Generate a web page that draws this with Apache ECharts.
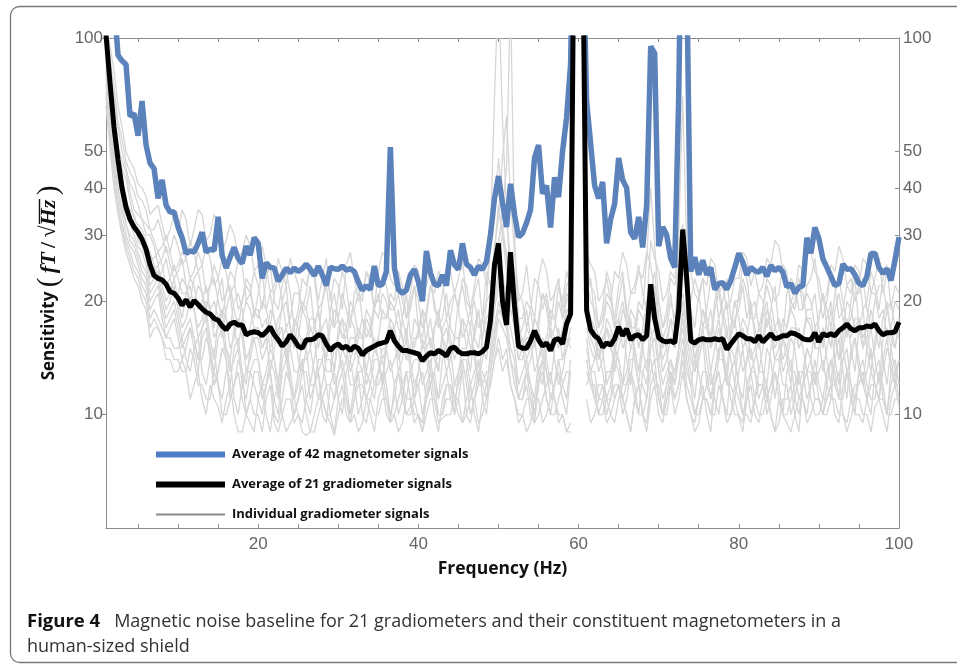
<!DOCTYPE html>
<html>
<head>
<meta charset="utf-8">
<script src="https://cdn.jsdelivr.net/npm/echarts@6/dist/echarts.min.js"></script>
<style>
  html, body { margin: 0; padding: 0; background: #fff; }
  #main { width: 957px; height: 666px; }
</style>
</head>
<body>
<div id="main"></div>
<script>
// every curve is sampled every 0.5 Hz from 1 Hz to 100 Hz
var freqStart = 1, freqStep = 0.5;

var magAvg = [
  200, 160, 125, 90, 87, 85, 62, 63, 55, 68,
  52, 46.5, 45, 37.5, 42, 36, 34.5, 34.5, 31.5, 29.5,
  26.8, 27.2, 27, 28.5, 30.5, 27, 27.5, 27.3, 33.5, 26.5,
  24.5, 26.2, 27.8, 26, 25.2, 28, 26.5, 29.5, 28.5, 23,
  25.3, 24.6, 24.5, 22.6, 23.5, 24.5, 23.8, 24.5, 24, 24.4,
  25.1, 24.3, 23.4, 24.8, 23.5, 22, 24.6, 24.4, 24.3, 24.8,
  24.2, 24.4, 24, 22.5, 21.4, 22, 21.5, 24.8, 22, 22.2,
  24, 51.3, 24.6, 21.5, 21, 21.4, 23.5, 24.3, 22.5, 20,
  27.2, 23.8, 22.2, 22, 23.5, 22, 27.3, 25, 24.3, 28.5,
  25.1, 24.6, 23.5, 24.8, 24.3, 25.5, 30, 37.5, 43, 36.5,
  31.5, 41, 34, 29.6, 30.3, 32.3, 35, 48, 52, 38.6,
  40.6, 31.4, 42.7, 37.8, 50, 61.5, 85, 300, 800, 200,
  68, 52.5, 40.6, 37.5, 41.5, 28.5, 33, 36.3, 48, 42,
  40, 30.5, 29.3, 33.5, 27.8, 36, 95, 91, 28, 31.5,
  30, 26, 24.6, 70, 400, 150, 24, 26.2, 23.5, 25.7,
  23.5, 24.6, 21.5, 22.3, 22.4, 21.5, 22.7, 24.6, 26.8, 25.4,
  23.5, 24.6, 24.1, 23.9, 24.6, 23.3, 24.9, 24.1, 24.6, 23.9,
  21.8, 22.3, 21, 21.8, 22, 29.5, 26.8, 31.4, 29.3, 25.9,
  24.6, 23.3, 22, 22.3, 25.1, 24.3, 24.4, 23.5, 22.3, 22,
  23.3, 26.8, 26.8, 24.6, 23.7, 24.4, 22.7, 25.7, 29.6
];

var gradAvg = [
  102, 76, 58, 47.5, 40, 35.5, 33, 31.5, 30.5, 29.2,
  27.5, 25, 23.4, 23, 22.8, 22.2, 21.2, 21, 20.4, 19.5,
  20.2, 19.3, 20.1, 19.6, 19.1, 18.7, 18.5, 18, 17.8, 17.2,
  16.8, 17.4, 17.6, 17.3, 17.3, 16.3, 16.5, 16.6, 16.5, 16.2,
  16.6, 17.1, 16.3, 15.8, 15.2, 15.6, 16.3, 15.8, 15.2, 15,
  15.8, 15.8, 15.9, 16.3, 16.2, 15.4, 14.8, 15.2, 15.4, 15,
  15.2, 14.8, 15.2, 15, 14.4, 14.8, 15, 15.2, 15.4, 15.5,
  15.6, 16.7, 15.7, 15.2, 14.8, 14.8, 14.7, 14.6, 14.5, 13.9,
  14.3, 14.6, 14.5, 14.8, 14.6, 14.3, 15, 15.1, 14.7, 14.5,
  14.5, 14.6, 14.6, 14.5, 14.7, 15.1, 17.8, 25, 28.5, 20,
  17.3, 27, 19.5, 15.2, 15, 15, 15.7, 16.7, 15.8, 15.2,
  15.5, 14.8, 15.8, 15.9, 15.4, 17.4, 18.5, 300, 800, 200,
  18.9, 16.8, 16.2, 15.9, 15.1, 15.5, 15.3, 15.9, 17.1, 16.2,
  16.9, 15.8, 16.2, 16.3, 15.8, 16.2, 22.2, 18, 16, 15.7,
  15.6, 15.7, 15.5, 19, 31, 23, 15.7, 15.5, 15.8, 15.9,
  15.8, 15.8, 15.9, 15.8, 15.9, 14.9, 15.4, 15.9, 16.4, 16.2,
  15.9, 15.9, 15.6, 16.2, 15.6, 16, 16.4, 15.9, 16, 16.2,
  16.2, 16.5, 16.4, 16.2, 15.9, 15.8, 15.8, 16.5, 15.6, 16.4,
  16.2, 16.4, 16.2, 16.7, 17, 17.4, 16.9, 16.7, 17, 17,
  17.2, 17.1, 17.4, 16.7, 16.3, 16.5, 16.5, 16.6, 17.6
];

// individual gradiometers (no value around 60 Hz)
var gradA = [110,95,82,66,58,50,47,45,41,40, 38,34,35,36,32,29,31,34,30,35, 33,28,31,35,34,29,30,34,32,27, 29,32,30,26,27,30,28,24,25,28,
  25,21,22,26,24,22,26,24,22,19, 21,25,24,20,23,26,20,23,22,19, 25,27,23,20,21,24,22,19,24,27, 26,23,22,24,20,18,21,25,24,21,
  22,24,19,18,21,25,24,21,23,26, 20,19,22,26,25,22,27,35,48,36, 33,26,24,20,21,25,20,18,23,26, 24,20,21,23,19,22,23,null,null,null,
  27,25,24,20,21,23,20,24,23,27, 25,21,22,25,21,19,29,26,24,20, 21,24,23,28,32,27,24,21,20,23, 22,26,25,21,22,19,20,23,23,27,
  26,22,24,21,22,26,25,29,28,24, 23,20,21,25,24,28,27,24,23,20, 21,25,24,28,26,22,23,20,22,26, 25,21,23,26,21,24,24,28,26];
var gradB = [100,88,74,60,54,47,44,42,38,37, 35,31,31,33,30,27,27,30,28,25, 26,29,27,24,25,28,26,22,23,26, 24,21,22,26,25,20,21,24,22,19,
  23,25,20,19,22,24,21,17,19,23, 22,25,23,19,20,22,18,17,21,24, 22,18,19,21,20,24,23,19,21,18, 18,21,20,24,22,18,19,22,20,17,
  18,22,21,24,23,18,20,21,19,23, 22,19,20,17,18,24,22,28,33,48, 62,38,27,21,20,17,19,23,22,19, 21,18,18,22,20,24,22,null,null,null,
  25,22,21,17,19,24,22,17,20,23, 18,21,21,24,23,27,25,21,20,17, 19,23,22,25,27,22,20,23,21,17, 19,23,22,18,20,23,18,17,21,25,
  23,19,20,17,19,23,22,20,21,25, 24,19,20,23,19,22,23,26,21,18, 20,24,22,18,19,22,21,25,24,19, 20,24,22,19,23,25,19,22,21];
var gradC = [92,80,64,52,47,44,39,35,34,33, 30,30,28,25,26,28,25,23,24,26, 22,20,23,24,21,19,22,23,20,18, 21,22,19,17,20,22,21,19,18,20,
  19,21,18,16,20,22,17,15,18,20, 19,17,17,19,16,14,19,21,18,16, 17,20,19,16,18,17,16,19,18,21, 20,17,17,15,18,21,16,15,17,19,
  18,15,17,19,16,15,18,21,19,16, 17,19,16,15,18,20,21,27,36,30, 27,22,19,16,17,19,16,15,18,21, 19,16,17,20,18,21,20,null,null,null,
  21,23,18,16,17,20,19,17,18,15, 16,19,18,15,17,20,21,24,18,16, 17,20,18,22,26,21,18,15,16,19, 17,15,19,21,18,16,16,18,19,22,
  18,20,16,15,19,22,20,17,18,16, 17,20,19,22,21,18,17,15,18,21, 17,15,19,21,18,16,20,23,17,15, 18,21,21,18,19,16,17,20,19];
var gradD = [90,72,60,50,45,42,37,33,32,31, 29,26,26,27,25,22,23,25,23,21, 21,23,22,19,20,22,19,17,21,23, 18,17,20,21,19,16,17,19,19,17,
  18,15,16,18,19,20,17,15,16,19, 18,15,17,19,15,14,17,19,18,16, 16,18,17,14,15,18,17,15,16,19, 18,20,19,17,16,14,15,18,17,15,
  16,18,15,13,17,18,16,14,15,18, 17,15,16,19,15,14,18,20,24,21, 22,19,18,15,16,14,15,18,17,15, 16,19,18,16,16,19,19,null,null,null,
  20,18,17,14,16,17,15,14,18,20, 17,15,16,19,18,16,20,22,17,15, 16,18,15,30,70,28,17,14,16,19, 18,15,16,18,15,13,17,20,18,15,
  16,19,17,15,18,20,16,14,15,18, 17,19,18,15,16,19,19,21,17,15, 18,20,16,14,17,20,19,17,18,15, 16,19,17,15,18,20,16,15,17];
var gradE = [88,70,58,48,43,37,35,34,31,29, 28,27,25,23,24,26,23,21,21,23, 22,19,20,22,21,18,19,20,18,16, 19,21,17,15,18,20,19,17,17,15,
  16,19,18,16,17,14,15,18,17,15, 16,18,18,15,17,18,15,13,16,18, 17,14,15,17,16,19,18,15,16,14, 15,17,17,19,16,14,14,16,16,19,
  15,13,17,18,16,14,14,16,16,18, 15,13,17,19,16,20,30,70,140,60, 35,22,17,14,15,17,16,18,17,14, 15,17,16,15,17,19,18,null,null,null,
  19,17,16,14,15,18,17,15,16,19, 18,16,15,13,16,18,19,17,16,14, 15,18,17,19,21,18,16,14,15,17, 17,19,16,14,18,20,15,14,16,18,
  17,14,15,17,16,19,18,15,16,14, 15,17,17,15,16,18,18,15,15,17, 16,19,17,14,15,17,16,18,18,16, 17,14,15,17,16,19,17,15,18];
var gradF = [85,66,55,46,41,38,33,32,29,28, 26,23,24,25,22,20,21,23,20,18, 21,22,19,17,18,20,19,16,17,19, 18,15,16,18,17,14,15,17,17,15,
  16,13,15,17,17,14,16,17,14,13, 15,17,16,13,14,16,15,13,17,18, 15,13,14,16,16,13,15,16,14,12, 16,18,17,14,15,17,14,12,13,15,
  15,16,14,13,16,17,15,12,13,15, 15,17,14,12,16,18,19,24,29,32, 26,19,17,14,14,16,16,13,14,16, 14,12,15,17,14,15,17,null,null,null,
  18,16,15,13,14,17,16,13,15,17, 14,12,16,17,15,13,18,19,16,13, 14,16,15,17,20,17,15,13,14,16, 16,13,15,17,14,12,16,18,15,13,
  14,16,16,13,15,18,17,14,14,16, 14,12,16,17,15,13,14,17,16,13, 15,17,14,12,16,18,15,13,17,19, 15,13,16,17,14,12,15,17,16];
var gradG = [82,64,52,44,39,35,32,30,28,27, 25,22,23,24,21,19,20,22,19,17, 18,20,19,16,17,19,16,14,18,19, 15,14,17,18,16,13,14,16,16,14,
  15,17,14,12,16,17,15,13,13,16, 15,12,14,16,16,13,13,15,15,13, 14,16,16,14,15,12,13,15,14,12, 15,17,16,13,14,16,13,11,13,16,
  14,12,13,15,15,13,14,16,16,13, 13,15,15,12,14,16,17,22,28,35, 45,130,30,18,15,13,14,16,13,12, 15,17,14,12,13,15,16,null,null,null,
  17,15,14,16,15,12,13,15,14,12, 16,18,14,12,15,17,17,14,14,16, 15,12,13,15,19,16,14,13,15,17, 14,12,13,15,15,17,14,12,16,17,
  15,13,14,16,13,12,15,17,16,13, 14,16,15,12,13,15,14,12,15,17, 14,12,16,17,15,13,14,16,13,12, 15,17,14,12,16,17,15,13,14];
var gradH = [80,62,50,42,37,32,30,29,27,25, 24,21,22,23,20,18,19,20,18,16, 17,18,16,14,17,18,15,13,16,17, 14,12,15,16,13,12,15,16,14,12,
  13,15,14,12,15,16,13,11,12,14, 14,15,13,11,12,14,14,12,13,15, 14,12,12,14,13,15,14,12,13,15, 15,13,14,15,12,11,13,14,14,12,
  13,14,12,11,14,15,13,11,12,14, 14,12,13,14,12,11,15,19,22,24, 20,17,15,12,13,14,12,11,14,15, 13,11,12,14,14,16,15,null,null,null,
  16,13,14,15,13,11,12,15,14,12, 13,15,15,13,13,12,16,17,14,12, 13,14,12,15,18,15,13,11,14,16, 12,11,13,15,15,12,13,14,12,11,
  14,15,13,12,12,15,14,11,13,16, 15,13,13,11,12,15,14,12,13,14, 12,11,14,16,13,11,15,16,14,12, 13,15,12,11,14,16,13,12,14];
var gradI = [78,60,48,40,35,32,29,28,26,24, 23,20,21,22,19,17,18,19,17,15, 16,17,15,13,16,17,14,12,13,15, 15,13,14,15,12,11,13,14,14,12,
  12,14,13,11,14,15,12,11,13,14, 11,10,12,14,14,12,12,11,13,14, 12,10,11,13,13,11,12,14,14,12, 13,14,12,10,11,13,13,11,12,13,
  11,12,13,11,12,13,11,10,13,14, 12,10,11,13,13,12,14,17,20,18, 18,15,14,11,12,13,11,10,12,14, 13,11,12,14,12,11,14,null,null,null,
  15,13,13,11,12,10,11,14,13,11, 12,14,14,12,12,11,15,16,13,11, 12,14,13,15,17,14,12,10,11,13, 13,11,12,14,14,12,12,11,13,15,
  12,10,11,13,13,11,12,14,14,12, 12,10,11,13,13,11,12,14,12,11, 13,14,12,11,14,15,12,11,13,12, 11,13,12,11,13,15,14,12,12];
var gradJ = [75,58,46,38,34,30,28,27,25,23, 22,19,20,21,18,16,17,18,16,14, 15,17,16,14,14,16,15,12,13,15, 14,11,12,14,13,10,11,13,13,11,
  12,13,11,10,13,14,12,10,11,13, 13,11,12,13,10,9.5,12,13,11,10, 13,14,12,10,11,13,12,11,13,14, 12,10,11,13,12,10,10.5,12,12,10,
  11,13,12,10,10,12,12,10,11,13, 13,11,12,14,11,10,13,16,19,18, 17,14,13,11,11,13,12,10,13,14, 11,10,12,13,11,10,13,null,null,null,
  14,12,12,10,11,13,13,11,12,10, 11,13,12,10,13,14,14,12,12,10, 11,13,12,14,16,13,12,14,13,11, 11,10,12,13,11,10,13,14,12,10,
  11,13,13,11,12,10,11,13,12,10, 13,14,11,10,12,13,13,11,11,10, 12,14,13,11,11,13,12,10,13,14, 12,11,11,13,12,10,13,14,12];
var gradK = [70,54,42,35,31,28,26,24,23,21, 20,17,18,17,16,15,15,14,14,13, 13,15,14,12,12,11,11,13,12,10, 10,11,12,13,11,10,9.5,9,11,12,
  10,9,11,12,10,9,9.5,10,11,12, 10,9,9,10,11,12,10,9,11,12, 10,9.5,11,12,12,11,10,9,11,12, 10,9.5,12,13,11,10,10,11,9.8,9,
  11,12,10,9,11,12,12,11,10,9.5, 11,12,10,9,11,12,12,14,16,14, 15,12,11,10,10,11,11,9.5,10,11, 12,13,11,10,10,9,9.5,null,null,null,
  12,13,11,10,10,11,11,12,12,11, 10,9,11,12,10,9.5,12,13,11,10, 10,12,11,12,14,11,10,9.5,11,12, 10,9,12,13,11,10,10,12,11,10,
  10,9.5,11,12,12,11,10,9,9.5,11, 11,12,10,9,12,13,11,10,10,11, 11,12,10,9.5,12,13,11,10,10,9.5, 11,12,12,11,10,9,11,12,10.5];
var gradL = [66,51,40,34,30,27,25,23,22,20, 19,16,17,17,16,14,14,13,13,14, 13,11,12,13,11,10,12,11,10.5,9.5, 11,12,10,9,9,10,11,10,10,9,
  11,12,9.5,9,10,11,11,9.5,10,9, 8.8,9,10,11,11,10,9.5,8.8,10,11, 11,9.5,10,9,9.5,11,11,10,10,11, 11,9.5,10,9,9.5,11,11,9.5,10,9,
  10,11,11,9.5,9.8,10,10,11,11,9.5, 10,11,11,9.5,10,11,12,14,15,13, 14,12,11,9.5,10,9,9.5,11,11,9.5, 10,11,11,9.5,10,9,9,null,null,null,
  11,9.5,10,11,11,9.5,10,11,12,11, 10,9,11,12,10,9,11,12,10,9.5, 11,12,10,11,13,11,10,9,9.5,11, 11,10,10,12,11,9.5,10,11,9.8,9,
  11,12,10,9.5,11,12,10,9,11,10, 9.5,9,10,11,11,9.5,10,11,11,10, 10,11,11,10,10,9,9.8,11,11,10, 10,9,10.5,11,11,10,10,11,11];
var gradM = [96,82,70,58,50,45,41,39,36,33, 32,31,29,27,28,30,27,24,25,27, 26,23,24,27,25,21,22,25,23,20, 21,24,23,19,20,23,22,18,21,24,
  19,17,21,23,20,17,18,21,21,19, 19,22,17,16,20,23,21,17,18,21, 19,17,21,22,18,16,17,20,20,23, 22,19,19,21,18,16,20,22,17,16,
  19,22,20,17,18,21,17,16,20,22, 19,17,21,23,18,16,20,24,26,30, 24,21,22,18,18,20,19,16,17,21, 20,17,21,23,18,20,21,null,null,null,
  23,20,19,17,18,21,20,18,22,24, 19,17,17,20,19,26,40,28,20,17, 18,21,17,19,24,21,19,17,21,23, 18,16,20,22,19,17,17,20,20,23,
  21,18,18,21,20,17,19,22,17,16, 21,23,22,19,19,21,20,17,18,21, 19,17,21,23,20,17,18,21,21,23, 19,17,20,22,22,19,20,17,18];
var gradN = [72,56,44,37,32,29,27,25,24,22, 21,18,19,18,17,16,16,15,15,16, 14,13,15,16,13,12,14,15,12,11, 13,14,11,10,12,13,13,12,11,10,
  12,13,10,9.5,11,13,12,11,10,9.5, 11,12,12,13,11,10,10,11,12,13, 11,10,12,13,10,9.5,11,12,12,13, 11,10,10,11,12,13,11,10,10,9.5,
  12,13,11,10,10,11,11,12,12,13, 10,9.5,11,12,12,13,13,15,18,17, 16,14,12,11,11,12,10,9.5,12,13, 11,10,10,11,12,13,13,null,null,null,
  13,12,11,12,12,11,10,9.5,11,12, 12,13,11,10,10,11,13,14,11,10, 12,13,11,12,15,12,11,10,10,11, 12,13,11,10,12,13,11,10,10,9.5,
  12,13,11,10,10,11,12,13,11,10, 10,11,12,13,11,10,12,13,11,10, 11,12,12,13,10,9.5,11,12,12,13, 11,10,13,14,11,10,12,13,11];

var xTicks = [5, 10, 15, 20, 25, 30, 35, 40, 45, 50, 55, 60, 65, 70, 75, 80, 85, 90, 95, 100];
var xLabels = [20, 40, 60, 80, 100];
var yLabels = [10, 20, 30, 40, 50, 100];

var NAME_MAG = 'Average of 42 magnetometer signals';
var NAME_GRAD = 'Average of 21 gradiometer signals';
var NAME_IND = 'Individual gradiometer signals';

var frameColor = '#8c8c8c';
var labelColor = '#666';

// the y axis is a log scale: plot log10 of every value
function lg(v) { return v == null ? null : Math.log10(v); }

function toData(list) {
  return list.map(function (v, i) { return [freqStart + i * freqStep, lg(v)]; });
}

var greys = [gradA, gradM, gradB, gradC, gradD, gradE, gradF, gradG, gradH, gradI, gradJ, gradN, gradK, gradL];

var series = greys.map(function (g) {
  return {
    name: NAME_IND, type: 'line', symbol: 'none', silent: true, z: 1,
    lineStyle: { color: '#d6d6d6', width: 1.3 },
    itemStyle: { color: '#8a8a8a' },
    data: toData(g)
  };
});
series.push({
  name: NAME_MAG, type: 'line', symbol: 'none', silent: true, z: 3,
  lineStyle: { color: '#5b82ba', width: 5.5 },
  itemStyle: { color: '#4d7cc8' },
  data: toData(magAvg)
});
series.push({
  name: NAME_GRAD, type: 'line', symbol: 'none', silent: true, z: 4,
  lineStyle: { color: '#000', width: 5 },
  itemStyle: { color: '#000' },
  data: toData(gradAvg)
});

var thin = '\u2009';

function yAxis(pos) {
  var left = pos === 'left';
  return {
    type: 'value', position: pos,
    min: Math.log10(5), max: 2,
    name: left ? '{s|Sensitivity }{p|(}{i|' + thin + 'fT' + thin + '}{n|/' + thin + '√}{i|Hz' + thin + '}{p|)}' : '',
    nameLocation: 'middle', nameGap: 36,
    nameTextStyle: {
      rich: {
        s: { fontFamily: 'Open Sans', fontWeight: 'bold', fontSize: 17, color: '#111' },
        p: { fontFamily: 'Liberation Serif', fontSize: 29, color: '#111' },
        i: { fontFamily: 'Liberation Serif', fontStyle: 'italic', fontWeight: 'bold', fontSize: 22, color: '#111' },
        n: { fontFamily: 'Liberation Serif', fontWeight: 'bold', fontSize: 22, color: '#111' }
      }
    },
    axisLine: { show: true, lineStyle: { color: frameColor, width: 1 } },
    axisTick: {
      show: true, inside: !left, length: 4,
      customValues: yLabels.map(Math.log10),
      lineStyle: { color: frameColor }
    },
    axisLabel: {
      customValues: yLabels.map(Math.log10),
      margin: left ? 3 : 4,
      color: labelColor, fontSize: 17, fontFamily: 'Liberation Sans',
      formatter: function (v) { return Math.round(Math.pow(10, v)); }
    },
    splitLine: { show: false }
  };
}

function xAxis(pos) {
  var bottom = pos === 'bottom';
  return {
    type: 'value', position: pos, min: 1, max: 100,
    name: bottom ? 'Frequency (Hz)' : '',
    nameLocation: 'middle', nameGap: 32,
    nameTextStyle: { fontFamily: 'Open Sans', fontWeight: 'bold', fontSize: 17.5, color: '#111' },
    axisLine: { show: true, lineStyle: { color: frameColor, width: 1 } },
    axisTick: { show: true, inside: true, length: 4, customValues: xTicks, lineStyle: { color: frameColor } },
    axisLabel: {
      show: bottom, customValues: xLabels, margin: 8,
      color: labelColor, fontSize: 17, fontFamily: 'Liberation Sans'
    },
    splitLine: { show: false }
  };
}

var chart = echarts.init(document.getElementById('main'), null, { renderer: 'canvas' });

var option = {
  animation: false,
  backgroundColor: '#fff',
  grid: { left: 106, right: 58, top: 38, bottom: 138 },
  xAxis: [xAxis('bottom'), xAxis('top')],
  yAxis: [yAxis('left'), yAxis('right')],
  legend: {
    orient: 'vertical', left: 148, top: 443,
    itemWidth: 69, itemHeight: 16, itemGap: 17,
    selectedMode: false,
    itemStyle: { opacity: 0 },
    textStyle: { fontFamily: 'Open Sans', fontWeight: 'bold', fontSize: 13, color: '#111', padding: [0, 0, 0, 2] },
    data: [
      { name: NAME_MAG, itemStyle: { opacity: 0 }, lineStyle: { color: '#4d7cc8', width: 6 } },
      { name: NAME_GRAD, itemStyle: { opacity: 0 }, lineStyle: { color: '#000', width: 6 } },
      { name: NAME_IND, itemStyle: { opacity: 0 }, lineStyle: { color: '#8a8a8a', width: 2 } }
    ]
  },
  graphic: [
    {
      type: 'rect', silent: true, z: -10,
      shape: { x: 10.5, y: 6.5, width: 980, height: 656, r: 9 },
      style: { fill: 'none', stroke: '#777', lineWidth: 1.3 }
    },
    {
      // bar of the square root over Hz
      type: 'line', silent: true, z: 10,
      shape: { x1: 39.5, y1: 199, x2: 39.5, y2: 224 },
      style: { stroke: '#111', lineWidth: 1.4 }
    },
    {
      type: 'text', silent: true, x: 27, y: 622,
      style: {
        text: '{b|Figure 4}   Magnetic noise baseline for 21 gradiometers and their constituent magnetometers in a',
        fontFamily: 'Open Sans', fontSize: 18, fill: '#333', verticalAlign: 'middle',
        rich: { b: { fontFamily: 'Open Sans', fontWeight: 'bold', fontSize: 18.5, fill: '#111' } }
      }
    },
    {
      type: 'text', silent: true, x: 27, y: 647,
      style: { text: 'human-sized shield', fontFamily: 'Open Sans', fontSize: 18, fill: '#333', verticalAlign: 'middle' }
    }
  ],
  series: series
};

chart.setOption(option);
</script>
</body>
</html>
